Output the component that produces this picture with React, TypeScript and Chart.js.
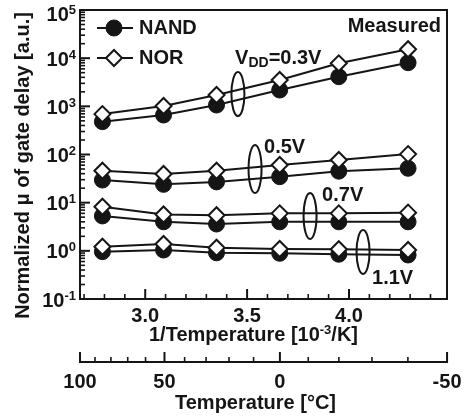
import React, { useEffect, useRef } from 'react';
import { Chart, registerables } from 'chart.js';

Chart.register(...registerables);

const FONT = '"Liberation Sans", Arial, Helvetica, sans-serif';
const INK = '#151515';

// measured temperatures as 1/T [10^-3/K]  (85, 50, 25, 0, -20, -40 °C)
const invTemp = [2.79, 3.09, 3.35, 3.66, 3.95, 4.29];

// normalized mu of gate delay [a.u.]
const nand03 = [480, 660, 1065, 2180, 4120, 8050];
const nor03 = [690, 1015, 1720, 3520, 7820, 15300];
const nand05 = [29.5, 24, 27, 34.6, 45, 51.7];
const nor05 = [46, 39.4, 46, 60.5, 77, 102];
const nand07 = [5.3, 4.0, 3.6, 4.0, 4.0, 4.0];
const nor07 = [8.25, 5.7, 5.5, 6.0, 6.0, 6.2];
const nand11 = [0.96, 1.04, 0.91, 0.89, 0.85, 0.82];
const nor11 = [1.22, 1.39, 1.16, 1.09, 1.08, 1.04];

// axes
const xMin = 2.68; // 100 °C
const xMax = 4.481; // -50 °C
const yMin = 0.1;
const yMax = 1e5;
const yDecades = [-1, 0, 1, 2, 3, 4, 5];
const xMajorTicks = [3.0, 3.5, 4.0];
const xMajorLabels = ['3.0', '3.5', '4.0'];
const xMinorTicks = [2.7, 2.8, 2.9, 3.1, 3.2, 3.3, 3.4, 3.6, 3.7, 3.8, 3.9, 4.1, 4.2, 4.3, 4.4];
const tempMajorTicks = [100, 50, 0, -50];
const tempMajorLabels = ['100', '50', '0', '-50'];
const tempMinorTicks = [90, 80, 70, 60, 40, 30, 20, 10, -10, -20, -30, -40];

// group annotations (anchored in data space)
type Part = { t: string; s?: 'sup' | 'sub' };
const groupLabels: { x: number; y: number; parts: Part[] }[] = [
  { x: 3.441, y: 9840, parts: [{ t: 'V' }, { t: 'DD', s: 'sub' }, { t: '=0.3V' }] },
  { x: 3.583, y: 143, parts: [{ t: '0.5V' }] },
  { x: 3.868, y: 14.4, parts: [{ t: '0.7V' }] },
  { x: 4.113, y: 0.273, parts: [{ t: '1.1V' }] },
];
const groupEllipses = [
  { x: 3.455, y: 1800, ry: 22 },
  { x: 3.539, y: 50, ry: 24 },
  { x: 3.809, y: 5.28, ry: 23 },
  { x: 4.069, y: 0.946, ry: 22 },
];

const legendItems = [
  { label: 'NAND', nand: true },
  { label: 'NOR', nand: false },
];

function drawParts(
  ctx: CanvasRenderingContext2D,
  x: number,
  y: number,
  parts: Part[],
  align: 'left' | 'center' | 'right',
  size = 20,
  small = 13
) {
  const widths = parts.map((p) => {
    ctx.font = `bold ${p.s ? small : size}px ${FONT}`;
    return ctx.measureText(p.t).width;
  });
  const total = widths.reduce((s, w) => s + w, 0);
  let cx = align === 'left' ? x : align === 'center' ? x - total / 2 : x - total;
  ctx.textAlign = 'left';
  ctx.textBaseline = 'middle';
  parts.forEach((p, i) => {
    ctx.font = `bold ${p.s ? small : size}px ${FONT}`;
    const dy = p.s === 'sup' ? -5 : p.s === 'sub' ? 5 : 0;
    ctx.fillText(p.t, cx, y + dy);
    cx += widths[i];
  });
}

function drawMarker(ctx: CanvasRenderingContext2D, x: number, y: number, nand: boolean) {
  ctx.save();
  ctx.strokeStyle = INK;
  ctx.fillStyle = nand ? INK : '#ffffff';
  ctx.lineWidth = nand ? 1 : 2;
  ctx.beginPath();
  if (nand) {
    ctx.arc(x, y, 8, 0, Math.PI * 2);
  } else {
    ctx.moveTo(x - 8, y);
    ctx.lineTo(x, y - 8);
    ctx.lineTo(x + 8, y);
    ctx.lineTo(x, y + 8);
    ctx.closePath();
  }
  ctx.fill();
  ctx.stroke();
  ctx.restore();
}

const decorPlugin = {
  id: 'decor',
  beforeDatasetsDraw(chart: any) {
    const { ctx, chartArea: a, scales } = chart;
    const xs = scales.x;
    const ys = scales.y;
    ctx.save();
    ctx.strokeStyle = INK;
    ctx.fillStyle = INK;
    ctx.lineCap = 'butt';

    // frame
    ctx.lineWidth = 2;
    ctx.strokeRect(a.left, a.top, a.right - a.left, a.bottom - a.top);

    // y ticks (inward)
    yDecades.forEach((d) => {
      const py = ys.getPixelForValue(Math.pow(10, d));
      ctx.lineWidth = 2;
      ctx.beginPath();
      ctx.moveTo(a.left, py);
      ctx.lineTo(a.left + 10, py);
      ctx.stroke();
      if (d < 5) {
        for (let m = 2; m <= 9; m++) {
          const pm = ys.getPixelForValue(m * Math.pow(10, d));
          ctx.lineWidth = 1.6;
          ctx.beginPath();
          ctx.moveTo(a.left, pm);
          ctx.lineTo(a.left + 5, pm);
          ctx.stroke();
        }
      }
      // label 10^d
      const exp = String(d);
      ctx.font = `bold 13px ${FONT}`;
      const we = ctx.measureText(exp).width;
      ctx.font = `bold 20px ${FONT}`;
      const wt = ctx.measureText('10').width;
      const right = a.left - 4;
      let cy = py + 2;
      if (cy < 15) cy = 15;
      ctx.textAlign = 'left';
      ctx.textBaseline = 'middle';
      ctx.fillText('10', right - we - wt, cy);
      ctx.font = `bold 13px ${FONT}`;
      ctx.fillText(exp, right - we, cy - 5);
    });

    // x ticks (inward)
    xMajorTicks.forEach((v, i) => {
      const px = xs.getPixelForValue(v);
      ctx.lineWidth = 2;
      ctx.beginPath();
      ctx.moveTo(px, a.bottom);
      ctx.lineTo(px, a.bottom - 10);
      ctx.stroke();
      ctx.font = `bold 20px ${FONT}`;
      ctx.textAlign = 'center';
      ctx.textBaseline = 'middle';
      ctx.fillText(xMajorLabels[i], px, a.bottom + 17);
    });
    xMinorTicks.forEach((v) => {
      const px = xs.getPixelForValue(v);
      ctx.lineWidth = 1.6;
      ctx.beginPath();
      ctx.moveTo(px, a.bottom);
      ctx.lineTo(px, a.bottom - 5);
      ctx.stroke();
    });

    const midX = (a.left + a.right) / 2 - 10;
    drawParts(
      ctx,
      midX,
      a.bottom + 36,
      [{ t: '1/Temperature [10' }, { t: '-3', s: 'sup' }, { t: '/K]' }],
      'center'
    );

    // temperature axis
    const ty = a.bottom + 63;
    ctx.lineWidth = 2;
    ctx.beginPath();
    ctx.moveTo(a.left - 1, ty);
    ctx.lineTo(a.right + 1, ty);
    ctx.stroke();
    const tPix = (t: number) => xs.getPixelForValue(1000 / (t + 273.15));
    tempMajorTicks.forEach((t, i) => {
      const px = tPix(t);
      ctx.lineWidth = 2;
      ctx.beginPath();
      ctx.moveTo(px, ty);
      ctx.lineTo(px, ty - 10);
      ctx.stroke();
      ctx.font = `bold 20px ${FONT}`;
      ctx.textAlign = 'center';
      ctx.textBaseline = 'middle';
      ctx.fillText(tempMajorLabels[i], px, ty + 20);
    });
    tempMinorTicks.forEach((t) => {
      const px = tPix(t);
      ctx.lineWidth = 1.6;
      ctx.beginPath();
      ctx.moveTo(px, ty);
      ctx.lineTo(px, ty - 5);
      ctx.stroke();
    });
    drawParts(ctx, midX + 2, ty + 41, [{ t: 'Temperature [°C]' }], 'center');

    // y title
    ctx.save();
    ctx.translate(23, (a.top + a.bottom) / 2 + 11);
    ctx.rotate(-Math.PI / 2);
    ctx.font = `bold 20px ${FONT}`;
    ctx.textAlign = 'center';
    ctx.textBaseline = 'middle';
    ctx.fillText('Normalized μ of gate delay [a.u.]', 0, 0);
    ctx.restore();

    ctx.restore();
  },
  afterDatasetsDraw(chart: any) {
    const { ctx, chartArea: a, scales } = chart;
    const xs = scales.x;
    const ys = scales.y;
    ctx.save();
    ctx.strokeStyle = INK;
    ctx.fillStyle = INK;

    groupEllipses.forEach((e) => {
      ctx.lineWidth = 2;
      ctx.beginPath();
      ctx.ellipse(xs.getPixelForValue(e.x), ys.getPixelForValue(e.y), 6.5, e.ry, 0, 0, Math.PI * 2);
      ctx.stroke();
    });
    groupLabels.forEach((g) => {
      drawParts(ctx, xs.getPixelForValue(g.x), ys.getPixelForValue(g.y), g.parts, 'left', 20, 14);
    });

    // "Measured"
    ctx.font = `bold 20px ${FONT}`;
    ctx.textAlign = 'right';
    ctx.textBaseline = 'middle';
    ctx.fillText('Measured', a.right - 6, a.top + 16);

    // legend
    legendItems.forEach((it, i) => {
      const ly = a.top + 18 + i * 30;
      ctx.lineWidth = 2;
      ctx.beginPath();
      ctx.moveTo(a.left + 17, ly);
      ctx.lineTo(a.left + 53, ly);
      ctx.stroke();
      drawMarker(ctx, a.left + 34, ly, it.nand);
      ctx.fillStyle = INK;
      ctx.font = `bold 20px ${FONT}`;
      ctx.textAlign = 'left';
      ctx.textBaseline = 'middle';
      ctx.fillText(it.label, a.left + 59, ly);
    });
    ctx.restore();
  },
};

function series(values: number[], nand: boolean, label: string) {
  return {
    label,
    data: invTemp.map((x, i) => ({ x, y: values[i] })),
    borderColor: INK,
    borderWidth: 2,
    pointStyle: nand ? 'circle' : 'rectRot',
    pointRadius: 8,
    pointBackgroundColor: nand ? INK : '#ffffff',
    pointBorderColor: INK,
    pointBorderWidth: nand ? 1 : 2,
    tension: 0,
    fill: false,
    order: nand ? 2 : 1,
  };
}

export default function App() {
  const ref = useRef<HTMLCanvasElement | null>(null);
  useEffect(() => {
    if (!ref.current) return;
    const chart = new Chart(ref.current, {
      type: 'line',
      data: {
        datasets: [
          series(nand03, true, 'NAND 0.3V'),
          series(nand05, true, 'NAND 0.5V'),
          series(nand07, true, 'NAND 0.7V'),
          series(nand11, true, 'NAND 1.1V'),
          series(nor03, false, 'NOR 0.3V'),
          series(nor05, false, 'NOR 0.5V'),
          series(nor07, false, 'NOR 0.7V'),
          series(nor11, false, 'NOR 1.1V'),
        ] as any,
      },
      options: {
        responsive: false,
        devicePixelRatio: 1,
        animation: false,
        events: [],
        layout: { padding: { left: 80, top: 10, right: 23, bottom: 120 } },
        plugins: { legend: { display: false }, tooltip: { enabled: false } },
        scales: {
          x: { type: 'linear', min: xMin, max: xMax, display: false },
          y: { type: 'logarithmic', min: yMin, max: yMax, display: false },
        },
      },
      plugins: [decorPlugin],
    });
    return () => chart.destroy();
  }, []);
  return (
    <div style={{ position: 'absolute', left: 0, top: 0, width: 470, height: 419, background: '#fff' }}>
      <canvas ref={ref} width={470} height={419} style={{ display: 'block' }} />
    </div>
  );
}
